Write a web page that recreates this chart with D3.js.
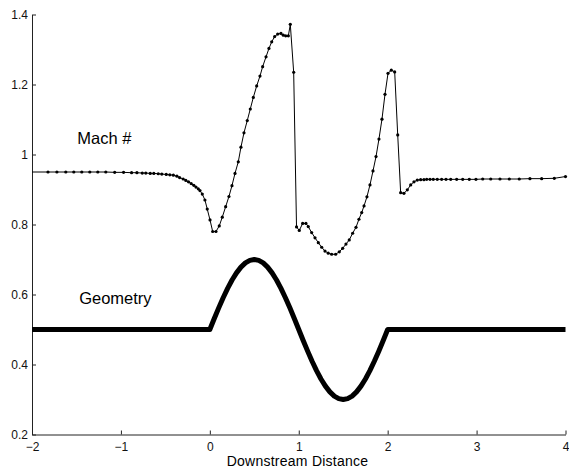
<!DOCTYPE html>
<html>
<head>
<meta charset="utf-8">
<script src="https://cdn.jsdelivr.net/npm/d3@7"></script>
<style>
  html, body { margin: 0; padding: 0; background: #fff; }
  svg { display: block; }
  text { font-family: "Liberation Sans", Arial, Helvetica, sans-serif; }
</style>
</head>
<body>
<svg id="chart" width="569" height="468"></svg>
<script>
// Mach number distribution along the channel (grid points)
const machX = [
  -2.00, -1.82, -1.72, -1.62, -1.53, -1.44, -1.35, -1.26, -1.17, -1.07,
  -0.97, -0.88, -0.82, -0.76, -0.72, -0.67, -0.63, -0.58, -0.54, -0.49,
  -0.45, -0.41, -0.37, -0.34, -0.30, -0.27, -0.24, -0.21, -0.18, -0.156,
  -0.13, -0.111, -0.085, -0.055, -0.029, 0.002, 0.032, 0.069, 0.106, 0.140,
  0.178, 0.215, 0.249, 0.283, 0.320, 0.350, 0.384, 0.421, 0.455, 0.489,
  0.527, 0.564, 0.594, 0.632, 0.665, 0.696, 0.729, 0.763, 0.800, 0.826,
  0.853, 0.883, 0.905, 0.943, 0.975, 1.006, 1.044, 1.081, 1.107, 1.145,
  1.183, 1.220, 1.258, 1.295, 1.332, 1.370, 1.415, 1.456, 1.494, 1.531,
  1.568, 1.606, 1.644, 1.677, 1.708, 1.734, 1.767, 1.801, 1.835, 1.869,
  1.902, 1.936, 1.970, 2.004, 2.041, 2.079, 2.113, 2.146, 2.183, 2.221,
  2.259, 2.296, 2.333, 2.371, 2.408, 2.439, 2.476, 2.513, 2.558, 2.607,
  2.656, 2.709, 2.776, 2.844, 2.918, 2.993, 3.069, 3.159, 3.263, 3.368,
  3.480, 3.600, 3.732, 3.874, 4.000
];
const machY = [
  0.950, 0.950, 0.950, 0.950, 0.950, 0.950, 0.950, 0.950, 0.950, 0.949,
  0.949, 0.948, 0.948, 0.947, 0.947, 0.946, 0.946, 0.945, 0.944, 0.943,
  0.942, 0.941, 0.938, 0.934, 0.930, 0.926, 0.922, 0.917, 0.912, 0.907,
  0.902, 0.897, 0.887, 0.870, 0.844, 0.813, 0.780, 0.780, 0.796, 0.821,
  0.851, 0.880, 0.911, 0.946, 0.979, 1.021, 1.062, 1.097, 1.130, 1.163,
  1.196, 1.224, 1.251, 1.279, 1.303, 1.322, 1.337, 1.344, 1.346, 1.341,
  1.339, 1.339, 1.372, 1.235, 0.793, 0.783, 0.803, 0.803, 0.794, 0.777,
  0.762, 0.748, 0.735, 0.724, 0.718, 0.715, 0.715, 0.722, 0.732, 0.744,
  0.756, 0.775, 0.792, 0.815, 0.834, 0.853, 0.879, 0.913, 0.953, 0.994,
  1.044, 1.101, 1.172, 1.232, 1.241, 1.236, 1.056, 0.891, 0.889, 0.899,
  0.913, 0.922, 0.927, 0.928, 0.928, 0.929, 0.929, 0.929, 0.929, 0.929,
  0.929, 0.929, 0.929, 0.929, 0.929, 0.929, 0.930, 0.930, 0.930, 0.930,
  0.930, 0.931, 0.931, 0.932, 0.937
];

// Channel wall geometry (bump between x = 0 and x = 2)
const geomX = [
  -2.00, 0.00, 0.05, 0.10, 0.15, 0.20, 0.25, 0.30, 0.35, 0.40, 0.45,
  0.50, 0.55, 0.60, 0.65, 0.70, 0.75, 0.80, 0.85, 0.90, 0.95,
  1.00, 1.05, 1.10, 1.15, 1.20, 1.25, 1.30, 1.35, 1.40, 1.45,
  1.50, 1.55, 1.60, 1.65, 1.70, 1.75, 1.80, 1.85, 1.90, 1.95,
  2.00, 4.00
];
const geomY = [
  0.5000, 0.5000, 0.5313, 0.5618, 0.5908, 0.6176, 0.6414, 0.6618, 0.6782, 0.6902, 0.6975,
  0.7000, 0.6975, 0.6902, 0.6782, 0.6618, 0.6414, 0.6176, 0.5908, 0.5618, 0.5313,
  0.5000, 0.4687, 0.4382, 0.4092, 0.3824, 0.3586, 0.3382, 0.3218, 0.3098, 0.3025,
  0.3000, 0.3025, 0.3098, 0.3218, 0.3382, 0.3586, 0.3824, 0.4092, 0.4382, 0.4687,
  0.5000, 0.5000
];

const xTicks = [-2, -1, 0, 1, 2, 3, 4];
const xTickLabels = ["\u22122", "\u22121", "0", "1", "2", "3", "4"];
const yTicks = [0.2, 0.4, 0.6, 0.8, 1.0, 1.2, 1.4];
const yTickLabels = ["0.2", "0.4", "0.6", "0.8", "1", "1.2", "1.4"];

const annotations = [
  { text: "Mach #", x: -1.49, y: 1.03 },
  { text: "Geometry", x: -1.47, y: 0.573 }
];
const xTitle = "Downstream Distance";

const svg = d3.select("#chart");
const plotLeft = 32, plotRight = 565.5, plotTop = 14.5, plotBottom = 434.5;

const x = d3.scaleLinear().domain([-2, 4]).range([plotLeft, plotRight]);
const y = d3.scaleLinear().domain([0.2, 1.4]).range([plotBottom, plotTop]);

// axes: left and bottom only, ticks pointing inward
const xAxis = d3.axisBottom(x)
  .tickValues(xTicks)
  .tickFormat((d, i) => xTickLabels[i])
  .tickSizeInner(-4).tickSizeOuter(0).tickPadding(7.5);
const yAxis = d3.axisLeft(y)
  .tickValues(yTicks)
  .tickFormat((d, i) => yTickLabels[i])
  .tickSizeInner(-4).tickSizeOuter(0).tickPadding(4);

const gx = svg.append("g").attr("transform", `translate(0,${plotBottom})`).call(xAxis);
const gy = svg.append("g").attr("transform", `translate(${plotLeft},0)`).call(yAxis);
[gx, gy].forEach(g => {
  g.selectAll("path.domain").attr("stroke", "#222").attr("stroke-width", 1);
  g.selectAll(".tick line").attr("stroke", "#222");
  g.selectAll(".tick text").attr("fill", "#111").style("font-size", "12px")
    .style("font-family", "'Liberation Sans', Arial, sans-serif");
});

// geometry curve
const geomData = geomX.map((d, i) => [d, geomY[i]]);
svg.append("path")
  .datum(geomData)
  .attr("fill", "none")
  .attr("stroke", "#000")
  .attr("stroke-width", 5)
  .attr("stroke-linejoin", "round")
  .attr("d", d3.line().x(d => x(d[0])).y(d => y(d[1])));

// Mach number line with point markers
const machData = machX.map((d, i) => [d, machY[i]]);
svg.append("path")
  .datum(machData)
  .attr("fill", "none")
  .attr("stroke", "#000")
  .attr("stroke-width", 1)
  .attr("d", d3.line().x(d => x(d[0])).y(d => y(d[1])));

svg.append("g").selectAll("circle")
  .data(machData.slice(1))
  .join("circle")
  .attr("cx", d => x(d[0]))
  .attr("cy", d => y(d[1]))
  .attr("r", 1.6)
  .attr("fill", "#000");

// text labels
svg.append("g").selectAll("text")
  .data(annotations)
  .join("text")
  .attr("x", d => x(d.x))
  .attr("y", d => y(d.y))
  .style("font-size", "16.5px")
  .attr("fill", "#000")
  .text(d => d.text);

svg.append("text")
  .attr("x", 297.5)
  .attr("y", 466)
  .attr("text-anchor", "middle")
  .style("font-size", "14px")
  .style("letter-spacing", "0.25px")
  .attr("fill", "#000")
  .text(xTitle);
</script>
</body>
</html>
